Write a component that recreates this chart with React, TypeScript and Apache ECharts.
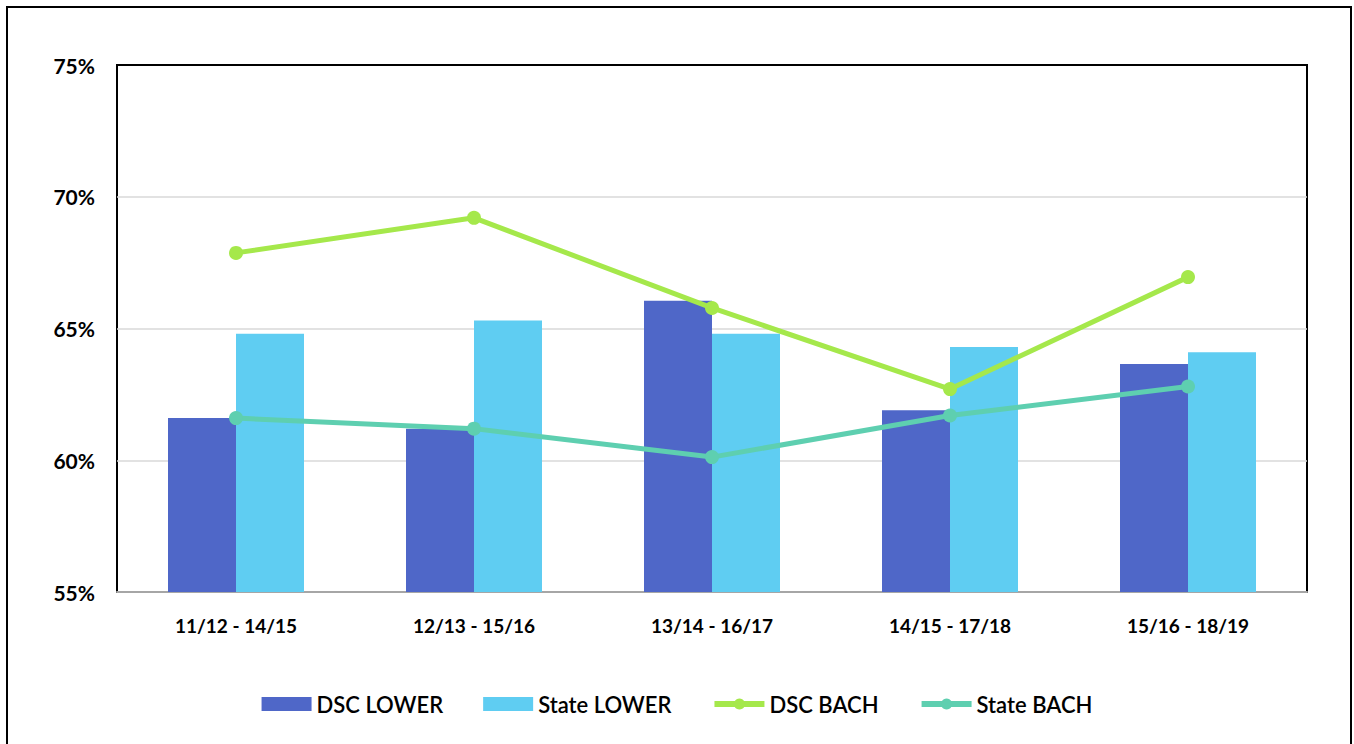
import React, { useEffect, useRef } from "react";
import * as echarts from "echarts";

const categories = ["11/12 - 14/15", "12/13 - 15/16", "13/14 - 16/17", "14/15 - 17/18", "15/16 - 18/19"];
const dscLower = [61.6, 61.2, 66.05, 61.9, 63.65];
const stateLower = [64.8, 65.3, 64.8, 64.3, 64.1];
const dscBach = [67.87, 69.2, 65.78, 62.7, 66.95];
const stateBach = [61.6, 61.2, 60.12, 61.7, 62.8];

export default function App() {
  const ref = useRef<HTMLDivElement>(null);
  useEffect(() => {
    const chart = echarts.init(ref.current!, null, { renderer: "svg" });
    const font = "Lato, 'Open Sans', sans-serif";
    chart.setOption({
      animation: false,
      backgroundColor: "#fff",
      graphic: [
        {
          type: "rect",
          shape: { x: 7, y: 7, width: 1344, height: 780 },
          style: { fill: "none", stroke: "#000", lineWidth: 2 },
          silent: true,
          z: 100,
        },
      ],
      grid: {
        left: 117,
        top: 65,
        right: 47,
        bottom: 152,
        show: true,
        borderColor: "#000",
        borderWidth: 2,
        backgroundColor: "#fff",
      },
      legend: {
        bottom: 24,
        left: "center",
        itemWidth: 50,
        itemHeight: 14,
        itemGap: 40,
        lineStyle: { width: 6 },
        textStyle: { fontFamily: font, fontSize: 22, color: "#000", fontWeight: 600 },
        data: [
          { name: "DSC LOWER", icon: "rect" },
          { name: "State LOWER", icon: "rect" },
          { name: "DSC BACH" },
          { name: "State BACH" },
        ],
      },
      xAxis: {
        type: "category",
        data: categories,
        axisLine: { show: true, lineStyle: { color: "#a6a6a6", width: 2 } },
        axisTick: { show: false },
        axisLabel: { fontFamily: font, fontSize: 19, fontWeight: "bold", color: "#000", margin: 24 },
      },
      yAxis: {
        type: "value",
        min: 55,
        max: 75,
        interval: 5,
        axisLine: { show: false },
        axisTick: { show: false },
        splitLine: {
          show: true,
          showMinLine: false,
          showMaxLine: false,
          lineStyle: { color: "#d9d9d9", width: 1.5 },
        },
        axisLabel: {
          fontFamily: font,
          fontSize: 21,
          fontWeight: "bold",
          color: "#000",
          margin: 22,
          formatter: (v: number) => v + "%",
        },
      },
      series: [
        {
          name: "DSC LOWER",
          type: "bar",
          data: dscLower,
          barWidth: 68,
          barGap: "0%",
          itemStyle: { color: "#4F67C8" },
        },
        {
          name: "State LOWER",
          type: "bar",
          data: stateLower,
          barWidth: 68,
          barGap: "0%",
          itemStyle: { color: "#5FCDF2" },
        },
        {
          name: "DSC BACH",
          type: "line",
          data: dscBach,
          symbol: "circle",
          symbolSize: 14,
          lineStyle: { color: "#A5E84B", width: 5 },
          itemStyle: { color: "#A5E84B" },
          z: 5,
        },
        {
          name: "State BACH",
          type: "line",
          data: stateBach,
          symbol: "circle",
          symbolSize: 14,
          lineStyle: { color: "#5ECFB0", width: 5 },
          itemStyle: { color: "#5ECFB0" },
          z: 5,
        },
      ],
    });
    return () => chart.dispose();
  }, []);
  return (
    <div
      ref={ref}
      style={{ position: "absolute", left: 0, top: 0, width: 1354, height: 744 }}
    />
  );
}
